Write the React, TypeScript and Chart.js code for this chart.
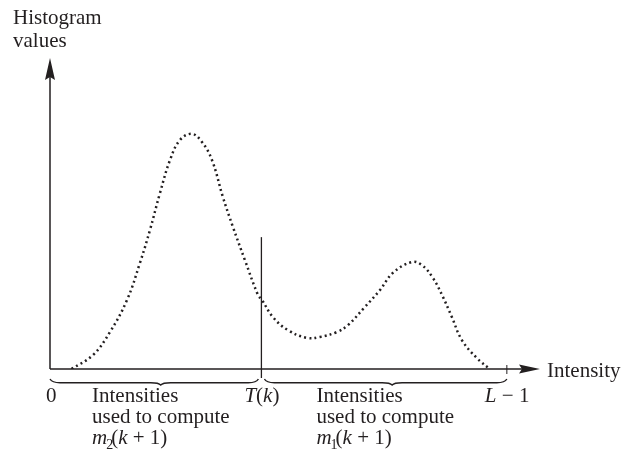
import React, { useEffect, useRef } from "react";
import { Chart, registerables } from "chart.js";

Chart.register(...registerables);

// Bimodal histogram outline (intensity, count)
const intensities = [12, 24, 33.5, 43, 50.2, 55.8, 61.4, 67, 72.5, 79.2, 84.8, 90.4, 96.5, 102.1, 108.8, 116.1, 118.3, 124.4, 132.8, 143.4, 150.7, 160.2, 166.3, 175.2, 184.2, 191.4, 202, 207.6, 213.7, 219.3, 224.3, 229.9, 238.3, 245.5];
const counts = [0, 4.5, 11.9, 22.2, 34.1, 44.7, 56.6, 67.2, 73.6, 75.6, 73.0, 67.2, 55.3, 45.7, 35.0, 23.8, 22.2, 16.7, 12.5, 10.0, 10.3, 11.9, 14.1, 19.6, 25.4, 30.9, 34.4, 33.4, 29.3, 23.2, 16.7, 9.3, 3.5, 0];

const LEVEL_MAX = 255; // L - 1
const THRESHOLD = 118; // T(k)
const THRESHOLD_TOP = 42.4;
const X_AXIS_END = 273.5;
const Y_AXIS_END = 100;

const xLabels = { zero: "0", threshold: "T(k)", last: "L − 1" };
const axisTitles = { y: ["Histogram", "values"], x: "Intensity" };
const groupLines = ["Intensities", "used to compute"];

const INK = "#231f20";
const FONT = "Liberation Serif, 'Times New Roman', serif";

function drawBrace(ctx: CanvasRenderingContext2D, x0: number, x1: number, tip: number, y: number) {
  const h = 5;
  ctx.beginPath();
  ctx.moveTo(x0, y - 1);
  ctx.quadraticCurveTo(x0 + 2, y + h * 0.55, x0 + 10, y + h * 0.55);
  ctx.lineTo(tip - 10, y + h * 0.55);
  ctx.quadraticCurveTo(tip - 2, y + h * 0.55, tip, y + h);
  ctx.quadraticCurveTo(tip + 2, y + h * 0.55, tip + 10, y + h * 0.55);
  ctx.lineTo(x1 - 10, y + h * 0.55);
  ctx.quadraticCurveTo(x1 - 2, y + h * 0.55, x1, y - 1);
  ctx.stroke();
}

// m_n(k + 1) with italic letters and a subscript
function drawMeanLabel(ctx: CanvasRenderingContext2D, sub: string, x: number, y: number) {
  let cx = x;
  ctx.font = `italic 21px ${FONT}`;
  ctx.fillText("m", cx, y);
  cx += ctx.measureText("m").width;
  ctx.font = `14px ${FONT}`;
  ctx.fillText(sub, cx - 1, y + 5);
  cx += ctx.measureText(sub).width - 3;
  ctx.font = `21px ${FONT}`;
  ctx.fillText("(", cx, y);
  cx += ctx.measureText("(").width;
  ctx.font = `italic 21px ${FONT}`;
  ctx.fillText("k", cx, y);
  cx += ctx.measureText("k").width;
  ctx.font = `21px ${FONT}`;
  ctx.fillText(" + 1)", cx, y);
}

const diagramPlugin = {
  id: "diagram",
  beforeDatasetsDraw(chart: any) {
    const { ctx } = chart;
    const xs = chart.scales.x;
    const ys = chart.scales.y;
    const ox = xs.getPixelForValue(0);
    const oy = ys.getPixelForValue(0);
    const xEnd = xs.getPixelForValue(X_AXIS_END);
    const yEnd = ys.getPixelForValue(Y_AXIS_END);
    ctx.save();
    ctx.strokeStyle = INK;
    ctx.fillStyle = INK;
    ctx.lineWidth = 1.5;
    // axes
    ctx.beginPath();
    ctx.moveTo(ox, oy);
    ctx.lineTo(ox, yEnd + 12);
    ctx.moveTo(ox, oy);
    ctx.lineTo(xEnd - 12, oy);
    ctx.stroke();
    // arrowheads
    ctx.beginPath();
    ctx.moveTo(ox, yEnd);
    ctx.lineTo(ox + 5, yEnd + 22);
    ctx.lineTo(ox, yEnd + 19);
    ctx.lineTo(ox - 5, yEnd + 22);
    ctx.closePath();
    ctx.fill();
    ctx.beginPath();
    ctx.moveTo(xEnd, oy);
    ctx.lineTo(xEnd - 21, oy - 4.5);
    ctx.lineTo(xEnd - 18, oy);
    ctx.lineTo(xEnd - 21, oy + 4.5);
    ctx.closePath();
    ctx.fill();
    // L-1 tick
    const lx = xs.getPixelForValue(LEVEL_MAX);
    ctx.lineWidth = 1;
    ctx.beginPath();
    ctx.moveTo(lx, oy - 4);
    ctx.lineTo(lx, oy + 5);
    ctx.stroke();
    // threshold line
    const tx = xs.getPixelForValue(THRESHOLD);
    ctx.lineWidth = 1.3;
    ctx.beginPath();
    ctx.moveTo(tx, ys.getPixelForValue(THRESHOLD_TOP));
    ctx.lineTo(tx, oy + 9);
    ctx.stroke();
    // braces
    ctx.lineWidth = 1.4;
    drawBrace(ctx, ox, tx - 3, (ox + tx) / 2 + 5, oy + 11);
    drawBrace(ctx, tx + 3, lx, (tx + lx) / 2 + 8, oy + 11);
    ctx.restore();
  },
  afterDraw(chart: any) {
    const { ctx } = chart;
    const xs = chart.scales.x;
    const ys = chart.scales.y;
    const ox = xs.getPixelForValue(0);
    const oy = ys.getPixelForValue(0);
    const tx = xs.getPixelForValue(THRESHOLD);
    const lx = xs.getPixelForValue(LEVEL_MAX);
    const xEnd = xs.getPixelForValue(X_AXIS_END);
    ctx.save();
    ctx.fillStyle = INK;
    ctx.textBaseline = "alphabetic";
    ctx.textAlign = "left";
    ctx.font = `21px ${FONT}`;
    ctx.fillText(axisTitles.y[0], 13, 24);
    ctx.fillText(axisTitles.y[1], 13, 47);
    ctx.fillText(axisTitles.x, xEnd + 7, oy + 8);
    const row1 = oy + 33;
    ctx.fillText(xLabels.zero, ox - 4, row1);
    // threshold label
    ctx.font = `italic 21px ${FONT}`;
    let cx = tx - 17;
    ctx.fillText("T", cx, row1);
    cx += ctx.measureText("T").width;
    ctx.font = `21px ${FONT}`;
    ctx.fillText("(", cx, row1);
    cx += ctx.measureText("(").width;
    ctx.font = `italic 21px ${FONT}`;
    ctx.fillText("k", cx, row1);
    cx += ctx.measureText("k").width;
    ctx.font = `21px ${FONT}`;
    ctx.fillText(")", cx, row1);
    // L - 1
    ctx.font = `italic 21px ${FONT}`;
    cx = lx - 22;
    ctx.fillText("L", cx, row1);
    cx += ctx.measureText("L").width;
    ctx.font = `21px ${FONT}`;
    ctx.fillText(" − 1", cx, row1);
    // group descriptions
    const lgx = ox + 42;
    const rgx = tx + 55;
    [lgx, rgx].forEach((gx) => {
      ctx.font = `21px ${FONT}`;
      ctx.fillText(groupLines[0], gx, row1);
      ctx.fillText(groupLines[1], gx, row1 + 21);
    });
    drawMeanLabel(ctx, "2", lgx, row1 + 42);
    drawMeanLabel(ctx, "1", rgx, row1 + 42);
    ctx.restore();
  },
};

export default function App() {
  const ref = useRef<HTMLCanvasElement>(null);
  useEffect(() => {
    if (!ref.current) return;
    const chart = new Chart(ref.current, {
      type: "line",
      data: {
        datasets: [
          {
            data: intensities.map((x, i) => ({ x, y: counts[i] })),
            borderColor: INK,
            borderWidth: 2.5,
            borderDash: [2, 3.2],
            borderCapStyle: "butt",
            pointRadius: 0,
            tension: 0.4,
            fill: false,
          },
        ],
      },
      options: {
        animation: false,
        responsive: false,
        devicePixelRatio: 1,
        layout: { padding: { left: 50, right: 82, top: 58, bottom: 89 } },
        scales: {
          x: { type: "linear", min: 0, max: X_AXIS_END, display: false },
          y: { min: 0, max: Y_AXIS_END, display: false },
        },
        plugins: { legend: { display: false }, tooltip: { enabled: false } },
      },
      plugins: [diagramPlugin],
    } as any);
    return () => chart.destroy();
  }, []);
  return (
    <canvas
      ref={ref}
      width={622}
      height={458}
      style={{ position: "absolute", left: 0, top: 0, background: "#fff" }}
    />
  );
}
